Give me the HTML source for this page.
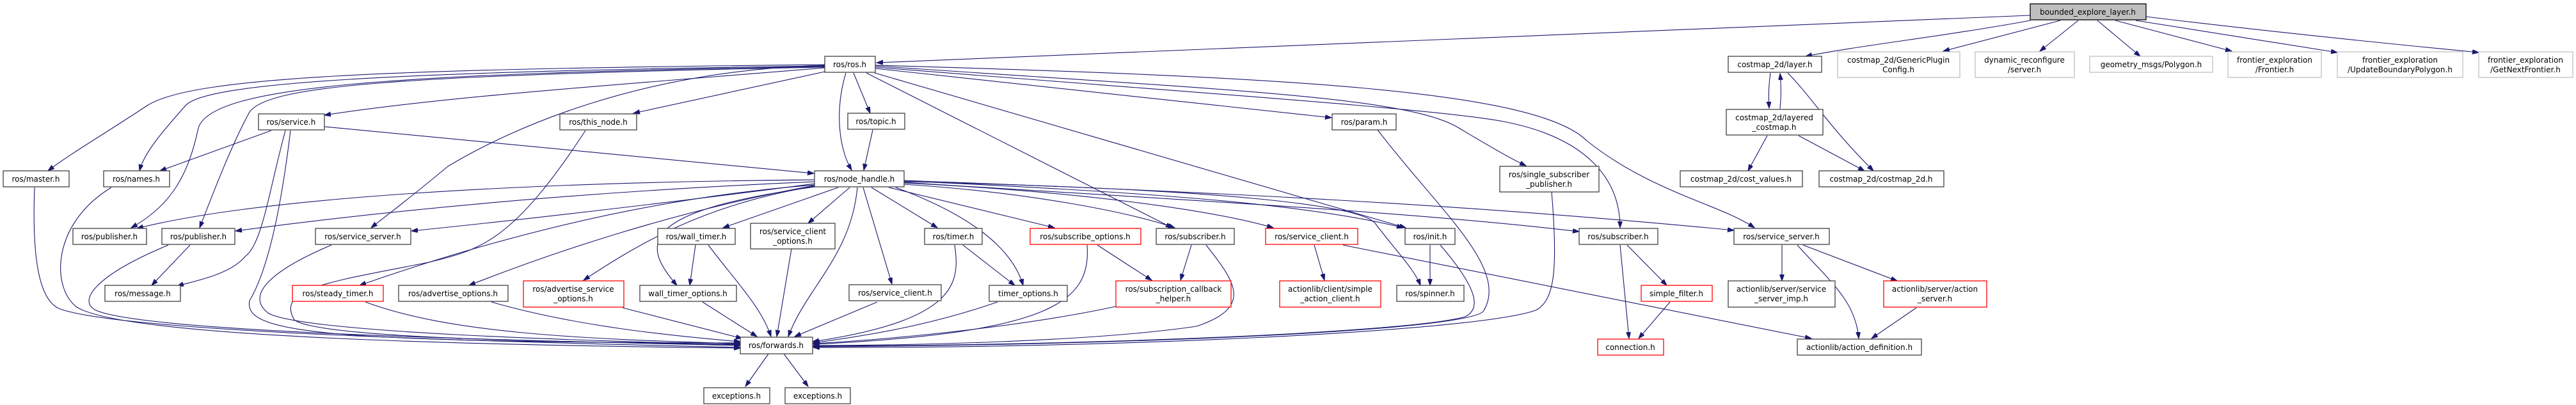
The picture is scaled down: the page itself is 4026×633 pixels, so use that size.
<!DOCTYPE html>
<html><head><meta charset="utf-8"><style>
html,body{margin:0;padding:0;background:#fff;width:4026px;height:633px;overflow:hidden}
svg{display:block}
text{font-family:"DejaVu Sans","Liberation Sans",sans-serif;font-size:12px;fill:#000;text-anchor:middle}
.n{fill:#fff;stroke:#404040;stroke-width:1.3}
.r{fill:#fff;stroke:#ff0000;stroke-width:1.3}
.g{fill:#fff;stroke:#bfbfbf;stroke-width:1.3}
.e{fill:none;stroke:#191970;stroke-width:1.1}
</style></head><body>
<svg width="4026" height="633" viewBox="0 0 4026 633" xmlns="http://www.w3.org/2000/svg">
<defs><marker id="a" markerUnits="userSpaceOnUse" markerWidth="11" markerHeight="8" refX="10" refY="3.5" orient="auto"><path d="M0,0 L10,3.5 L0,7 z" fill="#191970" stroke="#191970"/></marker></defs>
<g marker-end="url(#a)">
<!-- bounded -->
<path class="e" d="M3173,24 L1370,98"/>
<path class="e" d="M3173,32 C3050,55 2900,72 2822,88"/>
<path class="e" d="M3220,32 L3037,80"/>
<path class="e" d="M3248,32 L3188,80"/>
<path class="e" d="M3278,32 L3345,88"/>
<path class="e" d="M3306,32 L3488,80"/>
<path class="e" d="M3338,32 L3653,82"/>
<path class="e" d="M3354,26 C3550,50 3750,70 3874,82"/>
<!-- costmap -->
<path class="e" d="M2767,114 C2764,135 2764,150 2765,169"/>
<path class="e" d="M2782,170 C2784,150 2784,135 2782,115"/>
<path class="e" d="M2794,114 C2830,150 2860,200 2928,267"/>
<path class="e" d="M2762,212 L2732,267"/>
<path class="e" d="M2811,212 L2914,267"/>
<!-- ros.h -->
<path class="e" d="M1289,101 C600,108 300,120 230,165 C170,205 110,240 75,267"/>
<path class="e" d="M1289,103 C600,112 320,130 290,165 C250,210 225,240 218,267"/>
<path class="e" d="M1289,104 C600,115 330,135 310,200 C295,270 270,320 205,356"/>
<path class="e" d="M1289,105 C600,118 420,135 390,175 C360,230 330,310 312,356"/>
<path class="e" d="M1289,106 C1000,130 700,150 507,180"/>
<path class="e" d="M1289,102 C1000,110 800,200 700,260 C640,310 600,340 580,356"/>
<path class="e" d="M1289,112 L990,177"/>
<path class="e" d="M1322,114 C1305,170 1310,230 1331,266"/>
<path class="e" d="M1334,114 L1360,177"/>
<path class="e" d="M1354,114 L1832,356"/>
<path class="e" d="M1367,114 L2197,356"/>
<path class="e" d="M1368,107 L2081,184"/>
<path class="e" d="M1368,103 C1900,140 2200,150 2280,200 C2330,230 2365,250 2385,259"/>
<path class="e" d="M1368,105 C1800,140 2250,170 2350,190 C2480,215 2532,280 2532,356"/>
<path class="e" d="M1368,102 C2000,120 2400,140 2480,220 C2580,300 2690,320 2742,356"/>
<!-- service.h, this_node, topic -->
<path class="e" d="M507,198 L1272,271"/>
<path class="e" d="M424,204 L250,267"/>
<path class="e" d="M446,204 C420,300 410,380 384,400 C360,430 300,440 277,447"/>
<path class="e" d="M454,204 C440,320 420,420 390,470 C380,520 500,535 1157,536"/>
<path class="e" d="M915,204 C800,380 750,390 670,410 C520,440 430,450 460,500 C500,530 900,535 1157,538"/>
<path class="e" d="M1364,203 L1350,266"/>
<!-- node_handle -->
<path class="e" d="M1273,281 C800,285 400,310 214,357"/>
<path class="e" d="M1273,284 C900,300 600,330 368,361"/>
<path class="e" d="M1273,287 C1100,310 850,340 643,361"/>
<path class="e" d="M1273,289 C1000,310 750,380 562,446"/>
<path class="e" d="M1273,290 C1050,330 850,400 733,446"/>
<path class="e" d="M1273,291 C1100,320 1000,380 912,438"/>
<path class="e" d="M1273,292 C1000,330 1000,380 1058,446"/>
<path class="e" d="M1310,293 L1130,356"/>
<path class="e" d="M1328,293 L1263,349"/>
<path class="e" d="M1340,293 C1330,400 1260,450 1232,526"/>
<path class="e" d="M1349,293 L1394,444"/>
<path class="e" d="M1362,293 L1465,356"/>
<path class="e" d="M1389,293 L1648,356"/>
<path class="e" d="M1400,293 C1500,330 1580,380 1599,446"/>
<path class="e" d="M1412,288 C1600,300 1760,330 1836,356"/>
<path class="e" d="M1412,286 C1700,300 1900,330 1990,356"/>
<path class="e" d="M1412,283 C1800,300 2050,320 2193,356"/>
<path class="e" d="M1412,284 C1900,295 2130,320 2150,350 C2180,390 2210,420 2220,446"/>
<path class="e" d="M1412,285 C1800,310 2200,330 2468,362"/>
<path class="e" d="M1412,282 C1900,300 2300,320 2710,360"/>
<!-- to forwards left -->
<path class="e" d="M54,293 C50,400 60,470 94,483 C200,520 800,535 1157,543"/>
<path class="e" d="M174,293 C80,350 80,450 120,480 C200,530 800,540 1157,544"/>
<path class="e" d="M263,383 C150,430 120,470 150,485 C230,520 800,532 1157,540"/>
<path class="e" d="M518,383 C430,420 380,460 420,490 C480,520 900,532 1157,539"/>
<path class="e" d="M571,472 C700,520 900,530 1157,537"/>
<path class="e" d="M768,472 C900,510 1050,525 1157,534"/>
<path class="e" d="M973,481 L1160,529"/>
<!-- other -->
<path class="e" d="M297,383 L237,446"/>
<path class="e" d="M1087,383 L1078,446"/>
<path class="e" d="M1107,383 C1150,440 1190,480 1205,526"/>
<path class="e" d="M1237,389 L1214,526"/>
<path class="e" d="M1098,472 L1183,526"/>
<path class="e" d="M1371,472 L1242,526"/>
<path class="e" d="M1201,553 L1165,604"/>
<path class="e" d="M1225,553 L1263,604"/>
<!-- to forwards right -->
<path class="e" d="M1492,383 C1500,440 1500,500 1270,534"/>
<path class="e" d="M1559,472 C1450,510 1350,525 1271,536"/>
<path class="e" d="M1699,383 C1705,470 1650,520 1271,538"/>
<path class="e" d="M1744,479 C1600,510 1400,530 1271,537"/>
<path class="e" d="M1885,383 C1930,440 1960,480 1870,510 C1700,535 1400,540 1271,540"/>
<path class="e" d="M2251,383 C2300,440 2320,480 2290,495 C2200,520 1700,540 1271,541"/>
<path class="e" d="M2153,203 C2250,330 2360,420 2318,487 C2280,520 1700,540 1271,542"/>
<path class="e" d="M2425,300 C2435,420 2430,470 2400,485 C2300,520 1700,545 1271,543"/>
<!-- right side -->
<path class="e" d="M1505,383 L1586,446"/>
<path class="e" d="M1715,383 L1800,438"/>
<path class="e" d="M1862,383 L1845,438"/>
<path class="e" d="M2054,383 L2070,438"/>
<path class="e" d="M2235,383 L2235,446"/>
<path class="e" d="M2099,383 L2831,529"/>
<path class="e" d="M2532,383 L2546,529"/>
<path class="e" d="M2543,383 L2605,446"/>
<path class="e" d="M2610,472 L2561,529"/>
<path class="e" d="M2785,383 L2785,439"/>
<path class="e" d="M2809,383 C2860,440 2900,470 2905,529"/>
<path class="e" d="M2818,383 L2965,439"/>
<path class="e" d="M2995,481 L2925,529"/>
</g>
<!-- nodes -->
<rect x="3173" y="6" width="181" height="25" fill="#bfbfbf" stroke="#000" stroke-width="1.3"/><text x="3263" y="23">bounded_explore_layer.h</text>
<rect class="n" x="1289" y="88" width="79" height="25"/><text x="1328" y="105">ros/ros.h</text>
<rect class="n" x="2701" y="88" width="146" height="25"/><text x="2774" y="105">costmap_2d/layer.h</text>
<rect class="g" x="2872" y="81" width="191" height="40"/><text x="2967" y="98">costmap_2d/GenericPlugin</text><text x="2967" y="113">Config.h</text>
<rect class="g" x="3087" y="81" width="155" height="40"/><text x="3164" y="98">dynamic_reconfigure</text><text x="3164" y="113">/server.h</text>
<rect class="g" x="3266" y="88" width="192" height="25"/><text x="3362" y="105">geometry_msgs/Polygon.h</text>
<rect class="g" x="3482" y="81" width="146" height="40"/><text x="3555" y="98">frontier_exploration</text><text x="3555" y="113">/Frontier.h</text>
<rect class="g" x="3653" y="81" width="196" height="40"/><text x="3751" y="98">frontier_exploration</text><text x="3751" y="113">/UpdateBoundaryPolygon.h</text>
<rect class="g" x="3874" y="81" width="147" height="40"/><text x="3947" y="98">frontier_exploration</text><text x="3947" y="113">/GetNextFrontier.h</text>
<rect class="n" x="404" y="178" width="103" height="25"/><text x="455" y="195">ros/service.h</text>
<rect class="n" x="875" y="178" width="120" height="25"/><text x="935" y="195">ros/this_node.h</text>
<rect class="n" x="1325" y="177" width="89" height="25"/><text x="1369" y="194">ros/topic.h</text>
<rect class="n" x="2082" y="178" width="100" height="25"/><text x="2132" y="195">ros/param.h</text>
<rect class="n" x="2698" y="171" width="151" height="40"/><text x="2773" y="188">costmap_2d/layered</text><text x="2773" y="203">_costmap.h</text>
<rect class="n" x="5" y="267" width="103" height="25"/><text x="56" y="284">ros/master.h</text>
<rect class="n" x="162" y="267" width="103" height="25"/><text x="213" y="284">ros/names.h</text>
<rect class="n" x="1273" y="267" width="140" height="25"/><text x="1343" y="284">ros/node_handle.h</text>
<rect class="n" x="2344" y="260" width="155" height="40"/><text x="2421" y="277">ros/single_subscriber</text><text x="2421" y="292">_publisher.h</text>
<rect class="n" x="2626" y="267" width="191" height="25"/><text x="2721" y="284">costmap_2d/cost_values.h</text>
<rect class="n" x="2843" y="267" width="195" height="25"/><text x="2940" y="284">costmap_2d/costmap_2d.h</text>
<rect class="n" x="114" y="357" width="115" height="25"/><text x="171" y="374">ros/publisher.h</text>
<rect class="n" x="253" y="357" width="114" height="25"/><text x="310" y="374">ros/publisher.h</text>
<rect class="n" x="493" y="357" width="149" height="25"/><text x="567" y="374">ros/service_server.h</text>
<rect class="n" x="1028" y="357" width="121" height="25"/><text x="1088" y="374">ros/wall_timer.h</text>
<rect class="n" x="1173" y="349" width="132" height="40"/><text x="1239" y="366">ros/service_client</text><text x="1239" y="381">_options.h</text>
<rect class="n" x="1445" y="357" width="90" height="25"/><text x="1490" y="374">ros/timer.h</text>
<rect class="r" x="1610" y="357" width="173" height="25"/><text x="1696" y="374">ros/subscribe_options.h</text>
<rect class="n" x="1807" y="357" width="122" height="25"/><text x="1868" y="374">ros/subscriber.h</text>
<rect class="r" x="1978" y="357" width="144" height="25"/><text x="2050" y="374">ros/service_client.h</text>
<rect class="n" x="2196" y="357" width="78" height="25"/><text x="2235" y="374">ros/init.h</text>
<rect class="n" x="2468" y="357" width="123" height="25"/><text x="2529" y="374">ros/subscriber.h</text>
<rect class="n" x="2710" y="357" width="149" height="25"/><text x="2784" y="374">ros/service_server.h</text>
<rect class="n" x="164" y="446" width="118" height="25"/><text x="223" y="463">ros/message.h</text>
<rect class="r" x="457" y="446" width="142" height="25"/><text x="528" y="463">ros/steady_timer.h</text>
<rect class="n" x="623" y="446" width="171" height="25"/><text x="708" y="463">ros/advertise_options.h</text>
<rect class="r" x="818" y="439" width="157" height="41"/><text x="896" y="456">ros/advertise_service</text><text x="896" y="471">_options.h</text>
<rect class="n" x="1000" y="446" width="151" height="25"/><text x="1075" y="463">wall_timer_options.h</text>
<rect class="n" x="1327" y="445" width="144" height="25"/><text x="1399" y="462">ros/service_client.h</text>
<rect class="n" x="1546" y="446" width="122" height="25"/><text x="1607" y="463">timer_options.h</text>
<rect class="r" x="1744" y="439" width="180" height="41"/><text x="1834" y="456">ros/subscription_callback</text><text x="1834" y="471">_helper.h</text>
<rect class="r" x="2000" y="439" width="158" height="41"/><text x="2079" y="456">actionlib/client/simple</text><text x="2079" y="471">_action_client.h</text>
<rect class="n" x="2183" y="446" width="105" height="25"/><text x="2235" y="463">ros/spinner.h</text>
<rect class="r" x="2565" y="446" width="111" height="25"/><text x="2620" y="463">simple_filter.h</text>
<rect class="n" x="2701" y="439" width="167" height="41"/><text x="2784" y="456">actionlib/server/service</text><text x="2784" y="471">_server_imp.h</text>
<rect class="r" x="2944" y="439" width="161" height="41"/><text x="3024" y="456">actionlib/server/action</text><text x="3024" y="471">_server.h</text>
<rect class="n" x="1157" y="527" width="113" height="26"/><text x="1213" y="544">ros/forwards.h</text>
<rect class="r" x="2497" y="530" width="103" height="25"/><text x="2548" y="547">connection.h</text>
<rect class="n" x="2809" y="530" width="194" height="25"/><text x="2906" y="547">actionlib/action_definition.h</text>
<rect class="n" x="1100" y="606" width="103" height="25"/><text x="1151" y="623">exceptions.h</text>
<rect class="n" x="1227" y="606" width="102" height="25"/><text x="1278" y="623">exceptions.h</text>
</svg>
</body></html>
